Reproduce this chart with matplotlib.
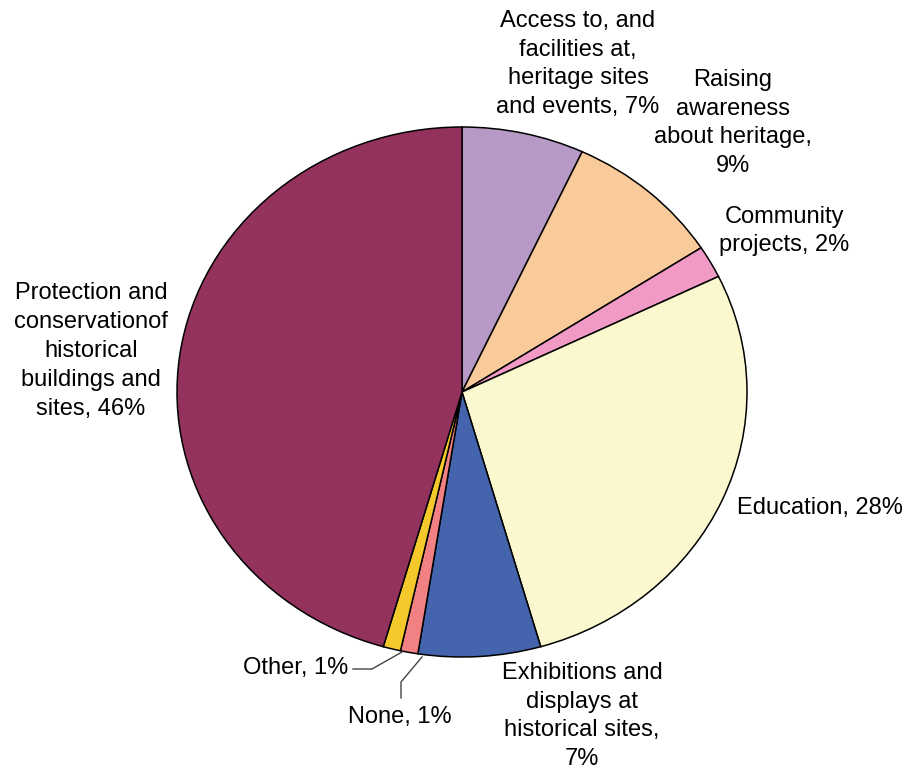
import matplotlib.pyplot as plt

labels = ['Access to, and\nfacilities at,\nheritage sites\nand events, 7%',
          'Raising\nawareness\nabout heritage,\n9%',
          'Community\nprojects, 2%',
          'Education, 28%',
          'Exhibitions and\ndisplays at\nhistorical sites,\n7%',
          'None, 1%',
          'Other, 1%',
          'Protection and\nconservationof\nhistorical\nbuildings and\nsites, 46%']
values = [7, 9, 2, 28, 7, 1, 1, 46]
colors = ['#B799C6', '#F9CA9A', '#F19AC5', '#FBF7CE',
          '#4465AE', '#F28183', '#F5C92B', '#94325E']

plt.rcParams['font.family'] = ['Liberation Sans', 'DejaVu Sans']

W, H = 906, 769
cx, cy, rx, ry = 462, 392, 285, 265

fig = plt.figure(figsize=(W / 100, H / 100), dpi=100)
ax = fig.add_axes([0, 0, 1, 1])
wedges, _ = ax.pie(values, colors=colors, startangle=90, counterclock=False,
                   wedgeprops=dict(edgecolor='black', linewidth=1.1))
ax.set_aspect('auto')
ax.set_xlim(-cx / rx, (W - cx) / rx)
ax.set_ylim((cy - H) / ry, cy / ry)


def px(x, y):
    # pixel position -> data coordinates
    return (x - cx) / rx, (cy - y) / ry


label_pos = [(578, 64), (733, 123), (784, 231), (820, 508),
             (582, 716), (400, 717), (296, 668), (91, 351)]
for lab, (x, y) in zip(labels, label_pos):
    ax.text(*px(x, y), lab, ha='center', va='center', fontsize=17,
            linespacing=1.4, color='black')

# leader lines for the two small slices
ox, oy = zip(px(353, 669), px(372, 669), px(402, 652))
ax.plot(ox, oy, color='#444444', lw=1)
nx, ny = zip(px(401, 698), px(401, 682), px(422, 657))
ax.plot(nx, ny, color='#444444', lw=1)

fig.savefig('out.png', dpi=100, facecolor='white')
